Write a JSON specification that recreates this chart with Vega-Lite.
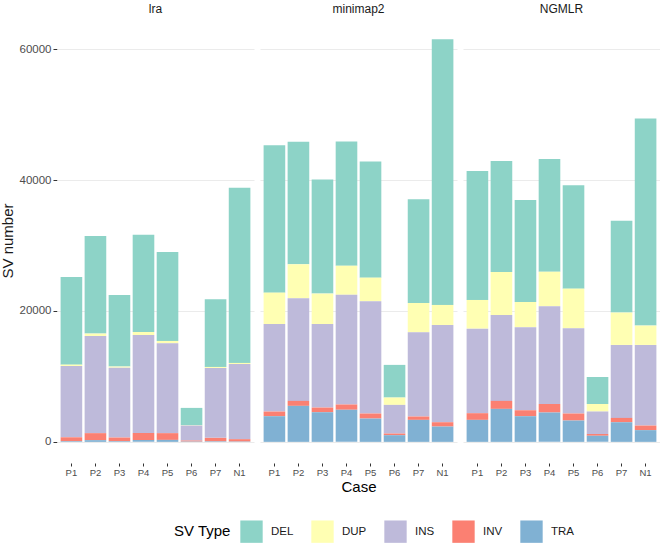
{
  "$schema": "https://vega.github.io/schema/vega-lite/v6.json",
  "padding": {"left": 0, "top": 3, "right": 0, "bottom": 0},
  "background": "white",
  "config": {
    "font": "Liberation Sans",
    "view": {"stroke": null},
    "axis": {"domain": false, "gridColor": "#ebebeb", "gridWidth": 1, "tickColor": "#333333", "labelColor": "#4d4d4d", "titleColor": "#1a1a1a", "titleFontWeight": "normal", "labelFont": "Liberation Sans", "titleFont": "Liberation Sans"},
    "header": {"labelFont": "Liberation Sans", "titleFont": "Liberation Sans"},
    "legend": {"labelFont": "Liberation Sans", "titleFont": "Liberation Sans"}
  },
  "data": {
    "values": [
      {"aligner": "lra", "case": "P1", "type": "DEL", "count": 13400},
      {"aligner": "lra", "case": "P1", "type": "DUP", "count": 200},
      {"aligner": "lra", "case": "P1", "type": "INS", "count": 10900},
      {"aligner": "lra", "case": "P1", "type": "INV", "count": 600},
      {"aligner": "lra", "case": "P1", "type": "TRA", "count": 100},
      {"aligner": "lra", "case": "P2", "type": "DEL", "count": 14910},
      {"aligner": "lra", "case": "P2", "type": "DUP", "count": 360},
      {"aligner": "lra", "case": "P2", "type": "INS", "count": 14850},
      {"aligner": "lra", "case": "P2", "type": "INV", "count": 1070},
      {"aligner": "lra", "case": "P2", "type": "TRA", "count": 260},
      {"aligner": "lra", "case": "P3", "type": "DEL", "count": 10940},
      {"aligner": "lra", "case": "P3", "type": "DUP", "count": 160},
      {"aligner": "lra", "case": "P3", "type": "INS", "count": 10680},
      {"aligner": "lra", "case": "P3", "type": "INV", "count": 560},
      {"aligner": "lra", "case": "P3", "type": "TRA", "count": 100},
      {"aligner": "lra", "case": "P4", "type": "DEL", "count": 14850},
      {"aligner": "lra", "case": "P4", "type": "DUP", "count": 460},
      {"aligner": "lra", "case": "P4", "type": "INS", "count": 14970},
      {"aligner": "lra", "case": "P4", "type": "INV", "count": 1070},
      {"aligner": "lra", "case": "P4", "type": "TRA", "count": 300},
      {"aligner": "lra", "case": "P5", "type": "DEL", "count": 13580},
      {"aligner": "lra", "case": "P5", "type": "DUP", "count": 360},
      {"aligner": "lra", "case": "P5", "type": "INS", "count": 13730},
      {"aligner": "lra", "case": "P5", "type": "INV", "count": 1030},
      {"aligner": "lra", "case": "P5", "type": "TRA", "count": 300},
      {"aligner": "lra", "case": "P6", "type": "DEL", "count": 2650},
      {"aligner": "lra", "case": "P6", "type": "DUP", "count": 50},
      {"aligner": "lra", "case": "P6", "type": "INS", "count": 2290},
      {"aligner": "lra", "case": "P6", "type": "INV", "count": 150},
      {"aligner": "lra", "case": "P6", "type": "TRA", "count": 50},
      {"aligner": "lra", "case": "P7", "type": "DEL", "count": 10330},
      {"aligner": "lra", "case": "P7", "type": "DUP", "count": 150},
      {"aligner": "lra", "case": "P7", "type": "INS", "count": 10690},
      {"aligner": "lra", "case": "P7", "type": "INV", "count": 530},
      {"aligner": "lra", "case": "P7", "type": "TRA", "count": 80},
      {"aligner": "lra", "case": "N1", "type": "DEL", "count": 26770},
      {"aligner": "lra", "case": "N1", "type": "DUP", "count": 160},
      {"aligner": "lra", "case": "N1", "type": "INS", "count": 11490},
      {"aligner": "lra", "case": "N1", "type": "INV", "count": 360},
      {"aligner": "lra", "case": "N1", "type": "TRA", "count": 50},
      {"aligner": "minimap2", "case": "P1", "type": "DEL", "count": 22500},
      {"aligner": "minimap2", "case": "P1", "type": "DUP", "count": 4790},
      {"aligner": "minimap2", "case": "P1", "type": "INS", "count": 13380},
      {"aligner": "minimap2", "case": "P1", "type": "INV", "count": 710},
      {"aligner": "minimap2", "case": "P1", "type": "TRA", "count": 3920},
      {"aligner": "minimap2", "case": "P2", "type": "DEL", "count": 18720},
      {"aligner": "minimap2", "case": "P2", "type": "DUP", "count": 5190},
      {"aligner": "minimap2", "case": "P2", "type": "INS", "count": 15680},
      {"aligner": "minimap2", "case": "P2", "type": "INV", "count": 760},
      {"aligner": "minimap2", "case": "P2", "type": "TRA", "count": 5500},
      {"aligner": "minimap2", "case": "P3", "type": "DEL", "count": 17450},
      {"aligner": "minimap2", "case": "P3", "type": "DUP", "count": 4640},
      {"aligner": "minimap2", "case": "P3", "type": "INS", "count": 12770},
      {"aligner": "minimap2", "case": "P3", "type": "INV", "count": 710},
      {"aligner": "minimap2", "case": "P3", "type": "TRA", "count": 4530},
      {"aligner": "minimap2", "case": "P4", "type": "DEL", "count": 18980},
      {"aligner": "minimap2", "case": "P4", "type": "DUP", "count": 4430},
      {"aligner": "minimap2", "case": "P4", "type": "INS", "count": 16790},
      {"aligner": "minimap2", "case": "P4", "type": "INV", "count": 810},
      {"aligner": "minimap2", "case": "P4", "type": "TRA", "count": 4890},
      {"aligner": "minimap2", "case": "P5", "type": "DEL", "count": 17760},
      {"aligner": "minimap2", "case": "P5", "type": "DUP", "count": 3610},
      {"aligner": "minimap2", "case": "P5", "type": "INS", "count": 17150},
      {"aligner": "minimap2", "case": "P5", "type": "INV", "count": 770},
      {"aligner": "minimap2", "case": "P5", "type": "TRA", "count": 3560},
      {"aligner": "minimap2", "case": "P6", "type": "DEL", "count": 4990},
      {"aligner": "minimap2", "case": "P6", "type": "DUP", "count": 1120},
      {"aligner": "minimap2", "case": "P6", "type": "INS", "count": 4380},
      {"aligner": "minimap2", "case": "P6", "type": "INV", "count": 250},
      {"aligner": "minimap2", "case": "P6", "type": "TRA", "count": 1020},
      {"aligner": "minimap2", "case": "P7", "type": "DEL", "count": 15830},
      {"aligner": "minimap2", "case": "P7", "type": "DUP", "count": 4480},
      {"aligner": "minimap2", "case": "P7", "type": "INS", "count": 12870},
      {"aligner": "minimap2", "case": "P7", "type": "INV", "count": 510},
      {"aligner": "minimap2", "case": "P7", "type": "TRA", "count": 3360},
      {"aligner": "minimap2", "case": "N1", "type": "DEL", "count": 40610},
      {"aligner": "minimap2", "case": "N1", "type": "DUP", "count": 3060},
      {"aligner": "minimap2", "case": "N1", "type": "INS", "count": 14860},
      {"aligner": "minimap2", "case": "N1", "type": "INV", "count": 660},
      {"aligner": "minimap2", "case": "N1", "type": "TRA", "count": 2340},
      {"aligner": "NGMLR", "case": "P1", "type": "DEL", "count": 19690},
      {"aligner": "NGMLR", "case": "P1", "type": "DUP", "count": 4380},
      {"aligner": "NGMLR", "case": "P1", "type": "INS", "count": 12920},
      {"aligner": "NGMLR", "case": "P1", "type": "INV", "count": 1020},
      {"aligner": "NGMLR", "case": "P1", "type": "TRA", "count": 3360},
      {"aligner": "NGMLR", "case": "P2", "type": "DEL", "count": 16950},
      {"aligner": "NGMLR", "case": "P2", "type": "DUP", "count": 6560},
      {"aligner": "NGMLR", "case": "P2", "type": "INS", "count": 13130},
      {"aligner": "NGMLR", "case": "P2", "type": "INV", "count": 1220},
      {"aligner": "NGMLR", "case": "P2", "type": "TRA", "count": 5040},
      {"aligner": "NGMLR", "case": "P3", "type": "DEL", "count": 15580},
      {"aligner": "NGMLR", "case": "P3", "type": "DUP", "count": 3860},
      {"aligner": "NGMLR", "case": "P3", "type": "INS", "count": 12680},
      {"aligner": "NGMLR", "case": "P3", "type": "INV", "count": 910},
      {"aligner": "NGMLR", "case": "P3", "type": "TRA", "count": 3920},
      {"aligner": "NGMLR", "case": "P4", "type": "DEL", "count": 17200},
      {"aligner": "NGMLR", "case": "P4", "type": "DUP", "count": 5290},
      {"aligner": "NGMLR", "case": "P4", "type": "INS", "count": 14910},
      {"aligner": "NGMLR", "case": "P4", "type": "INV", "count": 1320},
      {"aligner": "NGMLR", "case": "P4", "type": "TRA", "count": 4480},
      {"aligner": "NGMLR", "case": "P5", "type": "DEL", "count": 15780},
      {"aligner": "NGMLR", "case": "P5", "type": "DUP", "count": 6060},
      {"aligner": "NGMLR", "case": "P5", "type": "INS", "count": 13020},
      {"aligner": "NGMLR", "case": "P5", "type": "INV", "count": 1070},
      {"aligner": "NGMLR", "case": "P5", "type": "TRA", "count": 3260},
      {"aligner": "NGMLR", "case": "P6", "type": "DEL", "count": 4120},
      {"aligner": "NGMLR", "case": "P6", "type": "DUP", "count": 1170},
      {"aligner": "NGMLR", "case": "P6", "type": "INS", "count": 3410},
      {"aligner": "NGMLR", "case": "P6", "type": "INV", "count": 300},
      {"aligner": "NGMLR", "case": "P6", "type": "TRA", "count": 920},
      {"aligner": "NGMLR", "case": "P7", "type": "DEL", "count": 14040},
      {"aligner": "NGMLR", "case": "P7", "type": "DUP", "count": 4940},
      {"aligner": "NGMLR", "case": "P7", "type": "INS", "count": 11150},
      {"aligner": "NGMLR", "case": "P7", "type": "INV", "count": 660},
      {"aligner": "NGMLR", "case": "P7", "type": "TRA", "count": 3000},
      {"aligner": "NGMLR", "case": "N1", "type": "DEL", "count": 31660},
      {"aligner": "NGMLR", "case": "N1", "type": "DUP", "count": 2950},
      {"aligner": "NGMLR", "case": "N1", "type": "INS", "count": 12320},
      {"aligner": "NGMLR", "case": "N1", "type": "INV", "count": 700},
      {"aligner": "NGMLR", "case": "N1", "type": "TRA", "count": 1790}
    ]
  },
  "facet": {
    "column": {
      "field": "aligner",
      "type": "nominal",
      "sort": ["lra", "minimap2", "NGMLR"],
      "header": {
        "title": "Case",
        "titleOrient": "bottom",
        "titleFontSize": 15,
        "titleColor": "#000000",
        "titleFontWeight": "normal",
        "titlePadding": -7,
        "labelOrient": "top",
        "labelFontSize": 12,
        "labelColor": "#1a1a1a",
        "labelPadding": 3
      }
    }
  },
  "spacing": 6,
  "spec": {
    "width": 197,
    "height": 443,
    "mark": {"type": "bar"},
    "encoding": {
      "x": {
        "field": "case",
        "type": "nominal",
        "sort": ["P1", "P2", "P3", "P4", "P5", "P6", "P7", "N1"],
        "scale": {"paddingInner": 0.1, "paddingOuter": 0.15},
        "axis": {"title": null, "labelAngle": 0, "labelFontSize": 9.5, "tickSize": 3, "offset": 1, "grid": false, "labelPadding": 1}
      },
      "y": {
        "field": "count",
        "type": "quantitative",
        "stack": "zero",
        "scale": {"domain": [-3077, 64607], "nice": false, "zero": false},
        "axis": {"title": "SV number", "values": [0, 20000, 40000, 60000], "format": "d", "labelFontSize": 11.5, "titleFontSize": 15, "tickSize": 4, "labelPadding": 2, "titlePadding": 4, "grid": true}
      },
      "color": {
        "field": "type",
        "type": "nominal",
        "scale": {"domain": ["DEL", "DUP", "INS", "INV", "TRA"], "range": ["#8dd3c7", "#ffffb3", "#bebada", "#fb8072", "#80b1d3"]},
        "legend": {
          "title": "SV Type",
          "orient": "none",
          "direction": "horizontal",
          "legendX": 117,
          "legendY": 501,
          "titleOrient": "left",
          "titleFontSize": 15,
          "titleFontWeight": "normal",
          "titleColor": "#000000",
          "titlePadding": 9,
          "labelFontSize": 11.5,
          "labelColor": "#1a1a1a",
          "labelOffset": 8,
          "columnPadding": 17,
          "symbolType": "square",
          "symbolSize": 500,
          "symbolStrokeWidth": 0,
          "symbolOpacity": 1
        }
      },
      "order": {"field": "type", "sort": "descending"}
    }
  }
}
